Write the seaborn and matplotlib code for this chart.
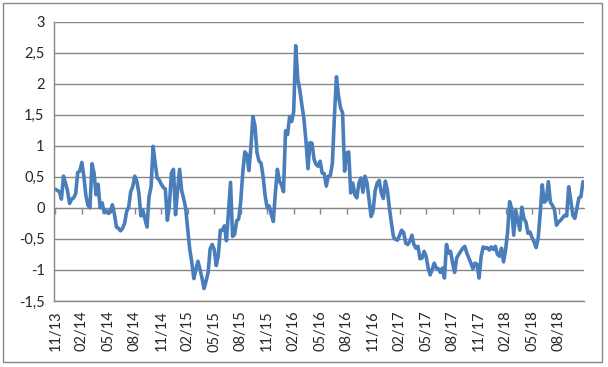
import numpy as np
import pandas as pd
import matplotlib
matplotlib.use('Agg')
import matplotlib.pyplot as plt
import seaborn as sns
from matplotlib.ticker import FuncFormatter, MultipleLocator
from matplotlib.patches import Rectangle

# ─── data (weekly series) ────────────────────────────────────────────────────
values_2013_14 = [0.30, 0.28, 0.26, 0.14, 0.51, 0.40, 0.27, 0.07, 0.14, 0.16,
                  0.23, 0.57, 0.59, 0.73, 0.51, 0.20, 0.04, 0.00, 0.71, 0.56,
                  0.21, 0.38, 0.00, 0.08, -0.08, -0.05, -0.09, -0.07, 0.05, -0.10,
                  -0.31, -0.33, -0.37, -0.33, -0.25, -0.06, 0.01, 0.26, 0.34, 0.51,
                  0.43, 0.24, -0.13, -0.04, -0.18, -0.31, 0.18, 0.34, 0.99, 0.72,
                  0.48, 0.45, 0.38, 0.33]
values_2015 = [0.30, -0.20, 0.05, 0.56, 0.62, -0.11, 0.28, 0.62, 0.28, 0.15,
               -0.01, -0.35, -0.67, -0.88, -1.14, -0.99, -0.86, -0.99, -1.13, -1.30,
               -1.18, -1.04, -0.66, -0.59, -0.67, -0.93, -0.77, -0.36, -0.36, -0.29,
               -0.53, -0.07, 0.41, -0.46, -0.43, -0.21, -0.18, 0.10, 0.56, 0.90,
               0.86, 0.60, 0.97]
values_2016 = [1.47, 1.32, 0.89, 0.75, 0.72, 0.50, 0.19, 0.00, 0.03, -0.11,
               -0.22, 0.24, 0.62, 0.43, 0.37, 0.26, 1.24, 1.18, 1.47, 1.39,
               1.55, 2.61, 2.07, 1.90, 1.66, 1.44, 1.09, 0.63, 1.05, 1.04,
               0.78, 0.70, 0.67, 0.75, 0.56, 0.55, 0.35, 0.51, 0.52, 0.72,
               1.48, 2.11, 1.80, 1.61, 1.53, 0.59, 0.88, 0.90, 0.24, 0.40,
               0.21, 0.16]
values_2017 = [0.40, 0.48, 0.25, 0.51, 0.40, 0.13, -0.14, -0.04, 0.28, 0.40,
               0.44, 0.24, 0.15, 0.43, 0.28, -0.01, -0.25, -0.47, -0.51, -0.52,
               -0.44, -0.36, -0.40, -0.57, -0.59, -0.54, -0.44, -0.59, -0.65, -0.62,
               -0.82, -0.81, -0.70, -0.78, -0.97, -1.08, -0.99, -0.89, -0.97, -0.98,
               -1.04, -0.97, -1.13, -0.59, -0.73, -0.70, -0.89, -1.04, -0.81, -0.75,
               -0.70, -0.65, -0.62, -0.73, -0.81, -0.89]
values_2018 = [-0.98, -0.89, -0.91, -1.13, -0.79, -0.63, -0.65, -0.64, -0.68, -0.63,
               -0.67, -0.62, -0.75, -0.78, -0.65, -0.87, -0.68, -0.39, 0.10, -0.01,
               -0.44, -0.04, -0.20, -0.36, 0.01, -0.17, -0.23, -0.41, -0.39, -0.48,
               -0.55, -0.64, -0.49, -0.09, 0.37, 0.09, 0.12, 0.42, 0.09, 0.04,
               -0.03, -0.28, -0.23, -0.20, -0.16, -0.12, -0.13, 0.34, 0.12, -0.12,
               -0.17, -0.01, 0.16, 0.18, 0.42]

tick_labels = ['11/13', '02/14', '05/14', '08/14', '11/14', '02/15', '05/15',
               '08/15', '11/15', '02/16', '05/16', '08/16', '11/16', '02/17',
               '05/17', '08/17', '11/17', '02/18', '05/18', '08/18']
label_every = 13  # one label per quarter (13 weeks)

values = values_2013_14 + values_2015 + values_2016 + values_2017 + values_2018
df = pd.DataFrame({'week': np.arange(len(values)), 'value': values})

# ─── plot ────────────────────────────────────────────────────────────────────
GRID = '#878787'
LINE = '#4A7EBB'

sns.set_style('white')
plt.rcParams['font.family'] = ['Lato', 'DejaVu Sans']

W, H = 608, 367
fig = plt.figure(figsize=(W / 100, H / 100), dpi=100)
ax = fig.add_axes([54.3 / W, 1 - 301 / H, (584 - 54.3) / W, (301 - 21.5) / H])

sns.lineplot(data=df, x='week', y='value', ax=ax, color=LINE, linewidth=2.6)

ax.set_xlim(-0.5, len(values) - 0.5)
ax.set_ylim(-1.5, 3)
ax.yaxis.set_major_locator(MultipleLocator(0.5))
ax.yaxis.set_major_formatter(FuncFormatter(lambda v, p: f"{v:g}".replace('.', ',')))
ax.grid(axis='y', color=GRID, linewidth=1)
ax.set_axisbelow(True)

for s in ['top', 'right']:
    ax.spines[s].set_visible(False)
for s in ['left', 'bottom']:
    ax.spines[s].set_color(GRID)
    ax.spines[s].set_linewidth(1)

tick_pos = np.arange(len(tick_labels)) * label_every
ax.set_xticks(tick_pos)
ax.set_xticklabels(tick_labels, rotation=90, fontsize=10.5)
ax.tick_params(axis='x', length=0, pad=7)
ax.tick_params(axis='y', length=4, color=GRID, width=1, labelsize=10.5, pad=3)
ax.set_xlabel('')
ax.set_ylabel('')

# horizontal axis crosses at 0, with small tick marks hanging below it
zero_ax = ax.secondary_xaxis(1.5 / 4.5)
zero_ax.set_xticks(tick_pos)
zero_ax.set_xticklabels([])
zero_ax.tick_params(axis='x', direction='out', length=4, color=GRID, width=1)
zero_ax.spines['bottom'].set_color(GRID)

# chart-area border
fig.patches.append(Rectangle((2.7 / W, 1 - 361.7 / H), (602 - 2.7) / W, (361.7 - 3.3) / H,
                             transform=fig.transFigure, fill=False,
                             edgecolor=GRID, linewidth=1))

fig.savefig('out.png', dpi=100)
